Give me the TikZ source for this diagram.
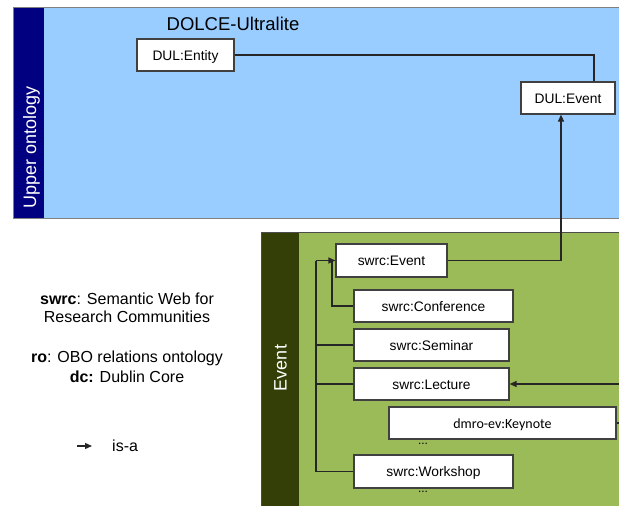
\documentclass[tikz,border=0pt]{standalone}
\usepackage{fontspec}
\setmainfont{Liberation Sans}
\newfontfamily\calib{Carlito}
\usetikzlibrary{arrows.meta}
\definecolor{navyband}{HTML}{000080}
\definecolor{skyband}{HTML}{99CCFF}
\definecolor{oliveband}{HTML}{333F07}
\definecolor{greenband}{HTML}{9BBB59}
\definecolor{boxline}{HTML}{404040}
\begin{document}
\begin{tikzpicture}[x=1pt,y=-1pt,
  cls/.style={draw=boxline,line width=1.2pt,fill=white,inner sep=0pt,
    font=\fontsize{13.8}{16}\selectfont,text height=10pt,text depth=0pt},
  link/.style={draw=black!85,line width=1.2pt},
  isa/.style={link,-{Triangle[length=7pt,width=6pt]}},
  lbl/.style={inner sep=0pt,font=\fontsize{16}{18}\selectfont,text height=11.5pt,text depth=0pt},
  dots/.style={inner sep=0pt,font=\fontsize{12}{14}\selectfont},
  bandtitle/.style={inner sep=0pt,text=white,font=\fontsize{18}{20}\selectfont,text height=13pt,text depth=0pt}]
\clip (0,0) rectangle (619,506);
\fill[white] (0,0) rectangle (619,506);

% upper ontology band
\fill[skyband] (13,7) rectangle (630,218);
\fill[navyband] (13,7) rectangle (44,218);
\draw[gray,line width=0.8pt] (13,7) rectangle (630,218);
\node[bandtitle,rotate=90] (upper) at (29.5,147) {Upper ontology};
\node[inner sep=0pt,font=\fontsize{18.5}{20}\selectfont,text height=13.5pt,text depth=0pt] (dul) at (233,23.5) {DOLCE-Ultralite};

% event band
\fill[greenband] (261,232) rectangle (630,515);
\fill[oliveband] (261,232) rectangle (299,515);
\draw[black!70,line width=0.8pt] (261,515) -- (261,232) -- (630,232);
\node[bandtitle,rotate=90] (eventband) at (280,368) {Event};

% classes
\node[cls,minimum width=97pt,minimum height=32pt] (ent) at (185.5,55) {DUL:Entity};
\node[cls,minimum width=94pt,minimum height=32pt] (dev) at (568,98) {DUL:Event};
\node[cls,minimum width=111pt,minimum height=33pt] (sev) at (391.5,260.5) {swrc:Event};
\node[cls,minimum width=159pt,minimum height=32pt] (conf) at (433.5,306) {swrc:Conference};
\node[cls,minimum width=155pt,minimum height=32pt] (sem) at (431.5,345) {swrc:Seminar};
\node[cls,minimum width=155pt,minimum height=32pt] (lec) at (431.5,384) {swrc:Lecture};
\node[cls,minimum width=227pt,minimum height=32pt,font=\calib\fontsize{14}{16}\selectfont] (key) at (502.5,423) {dmro-ev:Keynote};
\node[cls,minimum width=159pt,minimum height=33pt] (ws) at (433.5,471.5) {swrc:Workshop};
\node[dots] (dots1) at (423,444) {...};
\node[dots] (dots2) at (423,492) {...};

% subclass links
\coordinate (trunk) at (316,260.5);
\coordinate (confturn) at (332,260.5);
\coordinate (keyturn) at (630,423);
\draw[link] (ent.east) -| ([xshift=26pt]dev.north);
\draw[isa] (sev.east) -| ([xshift=-7pt]dev.south);
\draw[link] (conf.west) -| (confturn);
\draw[isa] (trunk) -- (sev.west);
\draw[link] (ws.west) -| (trunk);
\draw[link] (sem.west) -- (sem.west -| trunk);
\draw[link] (lec.west) -- (lec.west -| trunk);
\draw[isa] (key.east) -- (keyturn) |- (lec.east);

% legend
\node[lbl] (l1) at (127,299) {\textbf{swrc}: Semantic Web for};
\node[lbl] (l2) at (127,317) {Research Communities};
\node[lbl] (l3) at (127,357) {\textbf{ro}: OBO relations ontology};
\node[lbl] (l4) at (127,377) {\textbf{dc:} Dublin Core};
\coordinate (ka) at (77,446);
\coordinate (kb) at (92,446);
\draw[isa] (ka) -- (kb);
\node[lbl,anchor=west] (l5) at (112,446) {is-a};
\end{tikzpicture}
\end{document}
